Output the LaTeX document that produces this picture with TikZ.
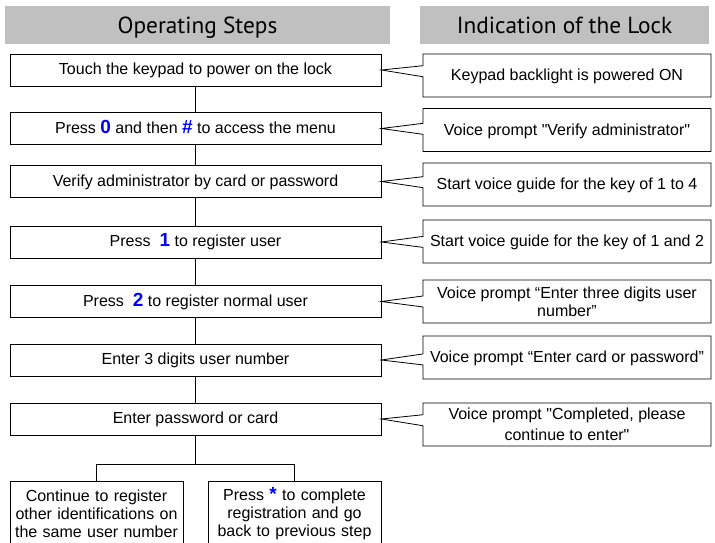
\documentclass[tikz,border=0pt]{standalone}
\usepackage{fontspec}
\setmainfont{Liberation Sans}[Ligatures=TeXOff]
\newfontfamily\headfont{PT Sans}
\usetikzlibrary{shapes.callouts}
\definecolor{headgray}{RGB}{192,192,192}
\definecolor{keyblue}{RGB}{0,0,255}
\newcommand{\keydigit}[1]{{\fontsize{19}{19}\selectfont\bfseries\color{keyblue}#1}}

\begin{document}
\begin{tikzpicture}[x=1pt,y=-1pt,
    head/.style={fill=headgray,minimum width=#1,minimum height=38pt,
        inner sep=0pt,text height=17pt,text depth=0pt,
        font=\headfont\fontsize{23.3}{28}\selectfont},
    stepbox/.style={draw,line width=0.8pt,minimum width=371pt,
        minimum height=32pt,inner sep=0pt,text height=12pt,text depth=3pt,
        font=\fontsize{16}{18}\selectfont},
    lockbox/.style={rectangle callout,draw,fill=white,line width=0.8pt,
        minimum width=288pt,minimum height=43pt,inner sep=0pt,align=center,
        callout pointer width=11pt,font=\fontsize{16}{18}\selectfont},
    oneline/.style={text height=12pt,text depth=2pt},
    endbox/.style={draw,line width=0.8pt,minimum width=173pt,
        minimum height=66pt,inner sep=0pt,text width=171pt,align=center,
        font=\fontsize{16}{18}\selectfont}]
    \clip (0,0) rectangle (715,543);

    \node[head=385pt] (h1) at (197.5,25) {Operating Steps};
    \node[head=289pt] (h2) at (564.5,25) {Indication of the Lock};

    \node[stepbox] (s1) at (195.5,70) {Touch the keypad to power on the lock};
    \node[stepbox] (s2) at (195.5,128.5)
        {Press \keydigit{0} and then \keydigit{\#} to access the menu};
    \node[stepbox] (s3) at (195.5,181.5) {Verify administrator by card or password};
    \node[stepbox] (s4) at (195.5,242)
        {Press\hspace{9pt}\keydigit{1} to register user};
    \node[stepbox] (s5) at (195.5,301.5)
        {Press\hspace{9pt}\keydigit{2} to register normal user};
    \node[stepbox] (s6) at (195.5,360) {Enter 3 digits user number};
    \node[stepbox] (s7) at (195.5,419) {Enter password or card};

    \draw[line width=0.8pt] (s1) -- (s2);
    \draw[line width=0.8pt] (s2) -- (s3);
    \draw[line width=0.8pt] (s3) -- (s4);
    \draw[line width=0.8pt] (s4) -- (s5);
    \draw[line width=0.8pt] (s5) -- (s6);
    \draw[line width=0.8pt] (s6) -- (s7);

    \node[lockbox,oneline,callout absolute pointer={(s1.east)}] (c1) at (567,75.5)
        {Keypad backlight is powered ON};
    \node[lockbox,oneline,callout absolute pointer={(s2.east)}] (c2) at (567,130)
        {Voice prompt "Verify administrator"};
    \node[lockbox,oneline,callout absolute pointer={(s3.east)}] (c3) at (567,184.5)
        {Start voice guide for the key of 1 to 4};
    \node[lockbox,oneline,callout absolute pointer={(s4.east)}] (c4) at (567,241.5)
        {Start voice guide for the key of 1 and 2};
    \node[lockbox,callout absolute pointer={(s5.east)}] (c5) at (567,301.5)
        {Voice prompt “Enter three digits user\\number”};
    \node[lockbox,oneline,callout absolute pointer={(s6.east)}] (c6) at (567,357.5)
        {Voice prompt “Enter card or password”};
    \node[lockbox,callout absolute pointer={(s7.east)}] (c7) at (567,424.5)
        {Voice prompt "Completed, please\\[3pt]continue to enter"};

    \node[endbox] (b1) at (96.5,514)
        {Continue to register\\other identifications on\\the same user number};
    \node[endbox] (b2) at (294.5,514)
        {Press \keydigit{*} to complete\\registration and go\\back to previous step};

    \coordinate (fork) at (195.5,464);
    \draw[line width=0.8pt] (s7.south) -- (fork) -| (b1.north);
    \draw[line width=0.8pt] (fork) -| (b2.north);
\end{tikzpicture}
\end{document}
